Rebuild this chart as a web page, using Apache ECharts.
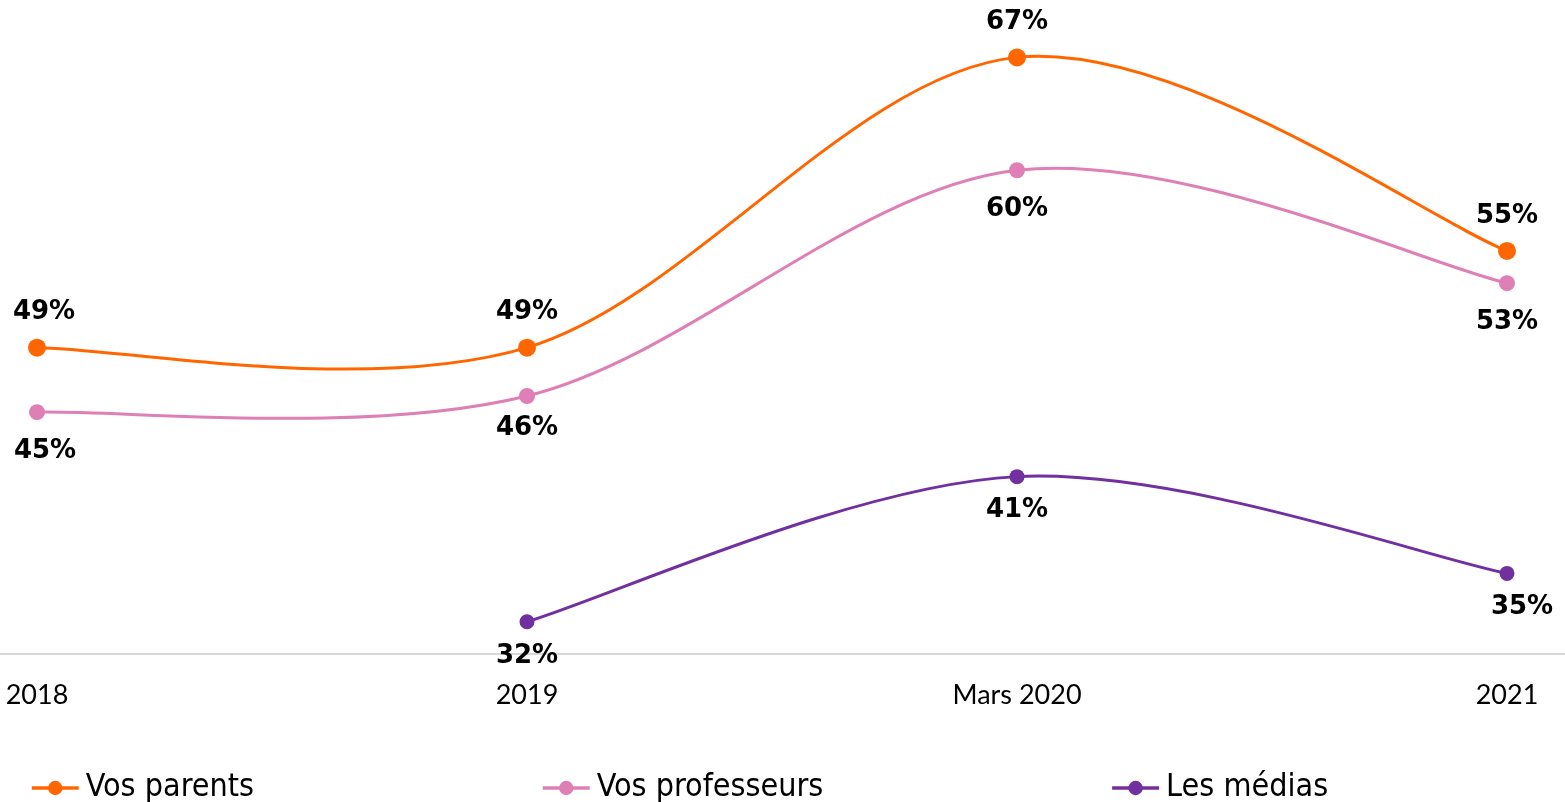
<!DOCTYPE html>
<html><head><meta charset="utf-8">
<script src="https://cdn.jsdelivr.net/npm/echarts@6/dist/echarts.min.js"></script>
<style>html,body{margin:0;padding:0;background:#fff}#c{width:1565px;height:802px}</style>
</head><body><div id="c"></div>
<script>
const categories = ['2018', '2019', 'Mars 2020', '2021'];
const parents = [49, 49, 67, 55];
const professeurs = [45, 46, 60, 53];
const medias = [null, 32, 41, 35];
const seriesNames = ['Vos parents', 'Vos professeurs', 'Les médias'];
const colors = ['#FF6600', '#DE7FB5', '#7030A0'];

const chart = echarts.init(document.getElementById('c'), null, {renderer: 'canvas'});
const labelFont = {fontFamily: 'DejaVu Sans', fontWeight: 'bold', fontSize: 26, color: '#000'};

// Excel-style (Catmull-Rom) smoothed curve drawn through the axis scales
function curveSeries(values, color) {
  return {
    type: 'custom', silent: true, z: 1,
    data: [0],
    renderItem: function (params, api) {
      const pts = [];
      values.forEach((v, i) => { if (v !== null) pts.push(api.coord([i, v])); });
      const n = pts.length;
      const P = k => pts[Math.max(0, Math.min(n - 1, k))];
      let d = 'M' + pts[0][0] + ',' + pts[0][1];
      const t = 1 / 6;
      for (let i = 0; i < n - 1; i++) {
        const p0 = P(i - 1), p1 = P(i), p2 = P(i + 1), p3 = P(i + 2);
        const c1 = [p1[0] + (p2[0] - p0[0]) * t, p1[1] + (p2[1] - p0[1]) * t];
        const c2 = [p2[0] - (p3[0] - p1[0]) * t, p2[1] - (p3[1] - p1[1]) * t];
        d += ' C' + c1[0] + ',' + c1[1] + ' ' + c2[0] + ',' + c2[1] + ' ' + p2[0] + ',' + p2[1];
      }
      return {type: 'path', shape: {pathData: d},
        style: {fill: 'none', stroke: color, lineWidth: 3}};
    }
  };
}
function mk(name, data, color, size, pos, dist, offsets) {
  return {
    name: name, type: 'line', z: 3, data: data.map((v, i) => {
      const o = offsets && offsets[i];
      return o ? {value: v, label: {offset: o}} : v;
    }),
    symbol: 'circle', symbolSize: size, showAllSymbol: true,
    lineStyle: {color: color, width: 3, opacity: 0}, itemStyle: {color: color},
    label: Object.assign({show: true, position: pos, distance: dist, formatter: p => p.value + '%'}, labelFont)
  };
}
chart.setOption({
  animation: false,
  grid: {left: 37, right: 58, top: 9, bottom: 148},
  xAxis: {type: 'category', data: categories, boundaryGap: false,
    axisLine: {show: false}, axisTick: {show: false},
    axisLabel: {fontFamily: 'Lato', fontSize: 27, color: '#000', margin: 28}},
  yAxis: {type: 'value', min: 30, max: 70, show: false, splitLine: {show: false}},
  legend: {bottom: -7, left: 25, itemGap: 287, itemWidth: 47, itemHeight: 18,
    lineStyle: {width: 3.5, opacity: 1},
    textStyle: {fontFamily: 'DejaVu Sans Condensed', fontSize: 32, color: '#000', padding: [0, 0, 0, 2]},
    data: seriesNames},
  series: [
    mk(seriesNames[0], parents, colors[0], 18, 'top', 13, {0: [7, 0]}),
    mk(seriesNames[1], professeurs, colors[1], 16, 'bottom', 18, {0: [8, 0], 1: [0, -7]}),
    mk(seriesNames[2], medias, colors[2], 15, 'bottom', 13, {1: [0, 1], 3: [15, 0]}),
    curveSeries(parents, colors[0]),
    curveSeries(professeurs, colors[1]),
    curveSeries(medias, colors[2])
  ]
});
const yAxisPx = chart.convertToPixel({yAxisIndex: 0}, 30);
chart.setOption({graphic: [{type: 'line', silent: true, z: 0,
  shape: {x1: 0, y1: yAxisPx, x2: 1565, y2: yAxisPx},
  style: {stroke: '#D9D9D9', lineWidth: 2}}]});
</script></body></html>
